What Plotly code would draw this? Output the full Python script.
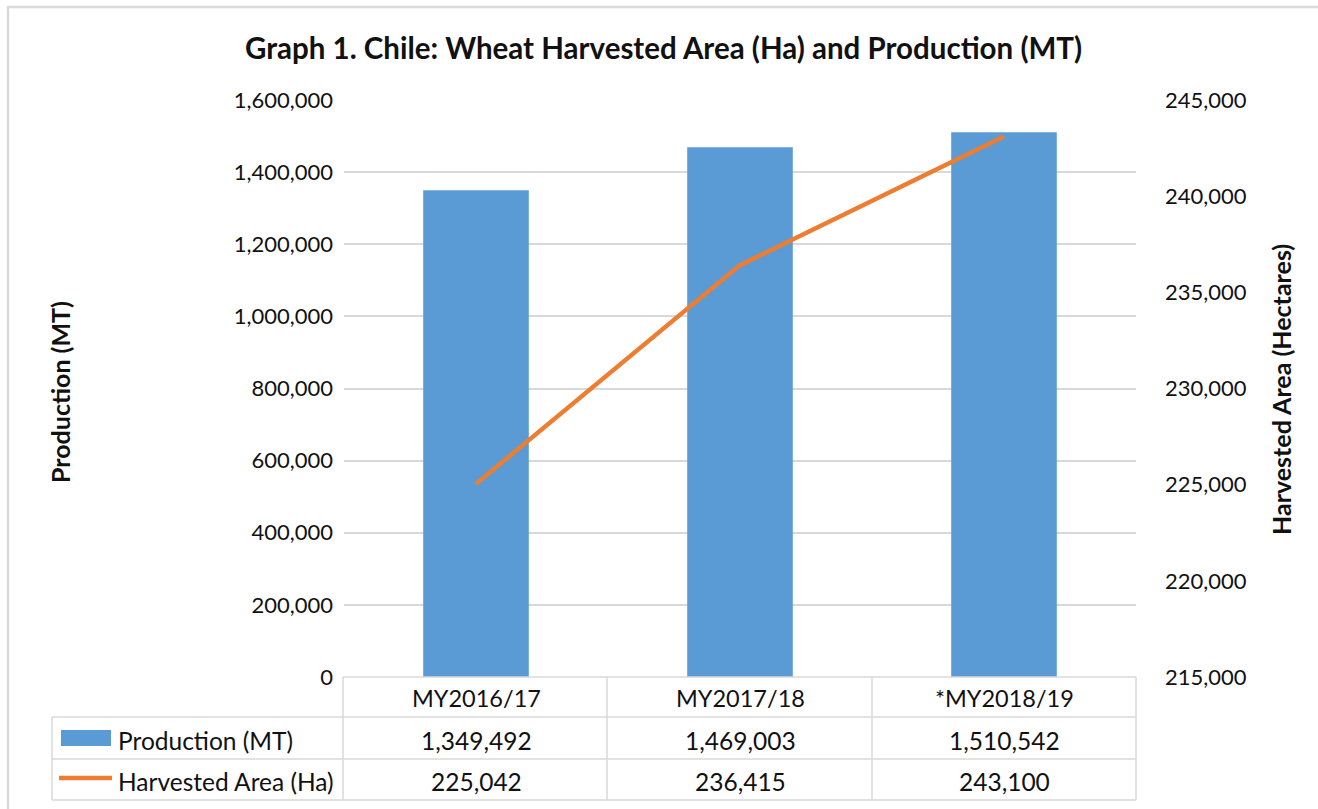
import plotly.graph_objects as go

categories = ["MY2016/17", "MY2017/18", "*MY2018/19"]
production = [1349492, 1469003, 1510542]
area = [225042, 236415, 243100]
left_ticks = [0, 200000, 400000, 600000, 800000, 1000000, 1200000, 1400000, 1600000]
right_ticks = [215000, 220000, 225000, 230000, 235000, 240000, 245000]
row_labels = ["Production (MT)", "Harvested Area (Ha)"]

W, H = 1318, 809
L, R, T, B = 344, 1136, 100, 677
FONT = "Lato"
TXT = "#111111"
GRID = "#D9D9D9"
BLUE = "#5B9BD5"
ORANGE = "#ED7D31"

TITLE_SIZE = 29.5
TICK_SIZE = 22
AXT_SIZE = 25
CAT_SIZE = 23.5
TAB_SIZE = 24.5


def px(x):
    return (x - L) / (R - L)


def py(y):
    return (B - y) / (B - T)


fig = go.Figure()
fig.add_trace(go.Bar(x=categories, y=production, marker=dict(color=BLUE, line=dict(width=0)),
                     width=0.4, name=row_labels[0], yaxis="y"))
fig.add_trace(go.Scatter(x=categories, y=area, mode="lines", name=row_labels[1],
                         line=dict(color=ORANGE, width=4.5), yaxis="y2"))

shapes = []
# outer frame
shapes.append(dict(type="rect", xref="paper", yref="paper", x0=px(8), x1=px(1340), y0=py(7), y1=py(830),
                   line=dict(color=GRID, width=2.5), layer="below"))


def hline(x0, x1, y):
    shapes.append(dict(type="line", xref="paper", yref="paper", x0=px(x0), x1=px(x1), y0=py(y), y1=py(y),
                       line=dict(color=GRID, width=1.5)))


def vline(x, y0, y1):
    shapes.append(dict(type="line", xref="paper", yref="paper", x0=px(x), x1=px(x), y0=py(y0), y1=py(y1),
                       line=dict(color=GRID, width=1.5)))


hline(343, 1136, 677)
hline(52, 1136, 717)
hline(52, 1136, 759)
hline(52, 1136, 800)
vline(52, 717, 800)
for xx in [343, 607, 872, 1136]:
    vline(xx, 677, 800)

# legend keys
shapes.append(dict(type="rect", xref="paper", yref="paper", x0=px(61), x1=px(111), y0=py(730), y1=py(746),
                   fillcolor=BLUE, line=dict(width=0)))
shapes.append(dict(type="line", xref="paper", yref="paper", x0=px(59), x1=px(112), y0=py(778), y1=py(778),
                   line=dict(color=ORANGE, width=4.5)))

ann = []
ann.append(dict(text="<b>Graph 1. Chile: Wheat Harvested Area (Ha) and Production (MT)</b>",
                xref="paper", yref="paper", x=px(663), y=py(47), showarrow=False,
                font=dict(family=FONT, size=TITLE_SIZE, color=TXT), xanchor="center", yanchor="middle"))
ann.append(dict(text="<b>Production (MT)</b>", xref="paper", yref="paper", x=px(60), y=py(392),
                showarrow=False, textangle=-90, font=dict(family=FONT, size=AXT_SIZE, color=TXT),
                xanchor="center", yanchor="middle"))
ann.append(dict(text="<b>Harvested Area (Hectares)</b>", xref="paper", yref="paper", x=px(1281), y=py(390),
                showarrow=False, textangle=-90, font=dict(family=FONT, size=AXT_SIZE, color=TXT),
                xanchor="center", yanchor="middle"))

for c, p, a in zip(categories, production, area):
    ann.append(dict(text=c, xref="x", yref="paper", x=c, y=py(698), showarrow=False,
                    font=dict(family=FONT, size=CAT_SIZE, color=TXT), xanchor="center", yanchor="middle"))
    ann.append(dict(text=f"{p:,}", xref="x", yref="paper", x=c, y=py(740), showarrow=False,
                    font=dict(family=FONT, size=TAB_SIZE, color=TXT), xanchor="center", yanchor="middle"))
    ann.append(dict(text=f"{a:,}", xref="x", yref="paper", x=c, y=py(781), showarrow=False,
                    font=dict(family=FONT, size=TAB_SIZE, color=TXT), xanchor="center", yanchor="middle"))

ann.append(dict(text=row_labels[0], xref="paper", yref="paper", x=px(116), y=py(740), showarrow=False,
                font=dict(family=FONT, size=TAB_SIZE, color=TXT), xanchor="left", yanchor="middle"))
ann.append(dict(text=row_labels[1], xref="paper", yref="paper", x=px(116), y=py(781), showarrow=False,
                font=dict(family=FONT, size=TAB_SIZE, color=TXT), xanchor="left", yanchor="middle"))

fig.update_layout(
    width=W, height=H,
    margin=dict(l=L, r=W - R, t=T, b=H - B, pad=0),
    paper_bgcolor="white", plot_bgcolor="white",
    showlegend=False,
    bargap=0.6,
    shapes=shapes,
    annotations=ann,
    font=dict(family=FONT, size=TICK_SIZE, color=TXT),
    xaxis=dict(type="category", range=[-0.5, 2.5], showticklabels=False, showgrid=False,
               zeroline=False, showline=False, ticks=""),
    yaxis=dict(range=[0, 1600000], tickvals=left_ticks, tickformat=",", showgrid=True,
               gridcolor=GRID, gridwidth=1.5, zeroline=False, showline=False, ticks="",
               ticklabelstandoff=10, tickfont=dict(family=FONT, size=TICK_SIZE, color=TXT)),
    yaxis2=dict(range=[215000, 245000], tickvals=right_ticks, tickformat=",", overlaying="y",
                side="right", showgrid=False, zeroline=False, showline=False, ticks="",
                ticklabelstandoff=28, tickfont=dict(family=FONT, size=TICK_SIZE, color=TXT)),
)

fig.write_html("out.html")
